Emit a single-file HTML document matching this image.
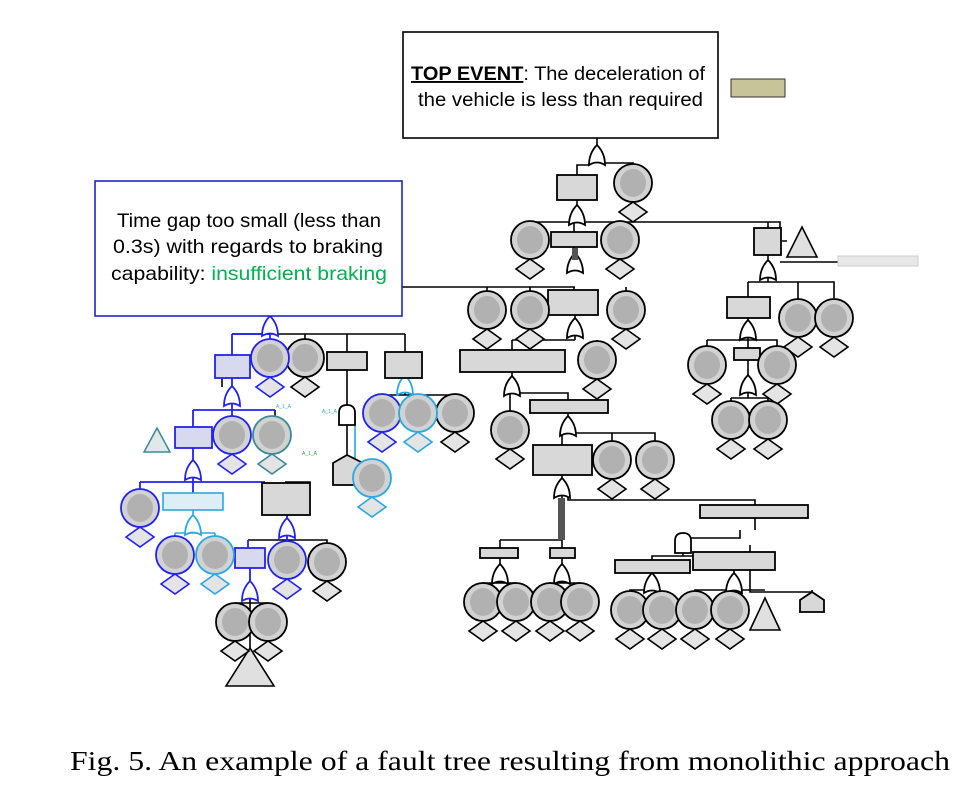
<!DOCTYPE html>
<html><head><meta charset="utf-8"><style>
html,body{margin:0;padding:0;background:#fff;}
svg{display:block;}
</style></head><body>
<svg width="979" height="808" viewBox="0 0 979 808" xmlns="http://www.w3.org/2000/svg">
<defs>
<g id="c"><circle cx="0" cy="0" r="19" fill="#d2d2d2" stroke-width="1.8"/><ellipse cx="0" cy="0" rx="13" ry="14" fill="#8a8a8a" stroke="none" opacity="0.45"/><polygon points="0,19 14,29 0,39 -14,29" fill="#e4e4e4" stroke-width="1.6"/></g>
<g id="g"><path d="M-8,10 Q-8,-2 0,-10 Q8,-2 8,10 Q0,5 -8,10 Z" fill="#fff" stroke-width="1.8"/></g>
<g id="a"><path d="M-8,10 L-8,-2 Q-8,-10 0,-10 Q8,-10 8,-2 L8,10 Z" fill="#fff" stroke-width="1.8"/></g>
</defs>
<g fill="none" stroke="#000" stroke-width="1.6">
<path d="M597,138V145 M577,175V165H590 M604,163H633V166"/>
<path d="M577,200V207 M530,223V222H780V228 M574,222V232 M620,222V223 M768,222V228"/>
<path d="M402,287H575 M574,247V255 M487,287V293 M530,287V293 M626,287V293 M574,287V290" />
<path d="M575,315V318 M512,340H575 M512,340V350 M597,340V343 M575,332V340"/>
<path d="M512,372V378 M510,393V413 M520,393H568V400"/>
<path d="M568,413V418 M562,435V445 M575,433H655V443 M612,433V443"/>
<path d="M562,475V480 M562,496V540 M500,540H562 M500,540V548 M562,540V548 M568,496V500H755V505"/>
<path d="M500,558V568 M562,558V568 M483,585V583H516V585 M550,585V583H580V585 M500,583V578 M562,583V578"/>
<path d="M755,518V530 M683,536V538H740V530 M683,550V556H652V560 M683,550V556H734V552 M750,545V592H812 M812,592V590"/>
<path d="M652,573V590 M630,593V590H660V593 M734,570V590 M695,593V590H765 M730,590V593"/>
<path d="M768,255V262 M782,241H787 M748,282H834V298 M748,282V297 M798,282V301 M768,278V282 M780,262H838"/>
<path d="M748,318V322 M707,340H777V348 M748,338V348 M707,340V348"/>
<path d="M748,360V377 M731,398H768V403 M748,393V398 M731,398V403"/>
<path d="M232,334H405 M305,334V341 M347,334V352 M405,334V352" />
<path d="M347,370V408 M347,422V455"/>
<path d="M405,378V376 M382,395H455 M455,395V396 M405,391V395"/>
<path d="M248,540H327V543 M287,540V543"/>
<path d="M310,483V482H285"/>
<path d="M222,378V387 M275,410V418"/>
</g>
<g fill="none" stroke="#2222ee" stroke-width="1.8">
<path d="M270,316V318 M232,334V355 M270,334V341 M232,334H270"/>
<path d="M232,378V388 M193,410H275 M193,410V427 M232,410V418 M232,404V410"/>
<path d="M193,448V463 M140,482H265 M140,482V490 M193,482V493 M193,478V482"/>
<path d="M287,515V520 M287,536V540 M248,540V548 M287,540V543"/>
<path d="M250,568V583 M382,395V396"/>
<path d="M212,440H205"/>
</g>
<g fill="none" stroke="#2aa8e0" stroke-width="1.6">
<path d="M193,510V518 M175,533H215 M175,533V538 M215,533V538 M193,533V532"/>
<path d="M355,418V465H372V461"/>
<path d="M405,378V376 M418,395V396"/>
</g>
<g stroke="#000" stroke-width="1.6">
<path d="M250,598V605 M235,603H268V608 M235,603V608 M250,603V648" fill="none"/>
</g>
<use href="#g" x="597" y="155" stroke="#000"/>
<use href="#g" x="577" y="215" stroke="#000"/>
<use href="#g" x="575" y="263" stroke="#000"/>
<rect x="572" y="248" width="6" height="12" fill="#555"/>
<use href="#g" x="575" y="328" stroke="#000"/>
<use href="#g" x="512" y="386" stroke="#000"/>
<use href="#g" x="568" y="426" stroke="#000"/>
<use href="#g" x="562" y="488" stroke="#000"/>
<rect x="558" y="498" width="7" height="42" fill="#555"/>
<use href="#g" x="500" y="574" stroke="#000"/>
<use href="#g" x="562" y="574" stroke="#000"/>
<use href="#a" x="683" y="543" stroke="#000"/>
<use href="#g" x="652" y="583" stroke="#000"/>
<use href="#g" x="734" y="583" stroke="#000"/>
<use href="#g" x="768" y="270" stroke="#000"/>
<use href="#g" x="748" y="330" stroke="#000"/>
<use href="#g" x="748" y="385" stroke="#000"/>
<use href="#g" x="270" y="326" stroke="#2222ee"/>
<use href="#g" x="232" y="396" stroke="#2222ee"/>
<use href="#g" x="193" y="470" stroke="#2222ee"/>
<use href="#g" x="193" y="525" stroke="#2aa8e0"/>
<use href="#g" x="287" y="528" stroke="#2222ee"/>
<use href="#g" x="250" y="591" stroke="#2222ee"/>
<use href="#a" x="347" y="415" stroke="#000"/>
<use href="#g" x="405" y="385" stroke="#2aa8e0"/>
<g stroke="#000" stroke-width="1.8" fill="#d8d8d8">
<rect x="557" y="175" width="40" height="25"/>
<rect x="551" y="232" width="46" height="15"/>
<rect x="548" y="290" width="50" height="25"/>
<rect x="460" y="350" width="105" height="22"/>
<rect x="530" y="400" width="78" height="13"/>
<rect x="533" y="445" width="59" height="30"/>
<rect x="480" y="548" width="38" height="10"/>
<rect x="550" y="548" width="25" height="10"/>
<rect x="700" y="505" width="108" height="13"/>
<rect x="615" y="560" width="75" height="13"/>
<rect x="693" y="552" width="82" height="18"/>
<path d="M800,600 L812,592 L824,600 V612 H800 Z"/>
<rect x="754" y="228" width="27" height="27"/>
<rect x="727" y="297" width="43" height="21"/>
<rect x="734" y="348" width="26" height="12"/>
<rect x="327" y="352" width="40" height="18"/>
<rect x="385" y="352" width="37" height="26"/>
<rect x="262" y="483" width="48" height="32"/>
<path d="M333,463 L347,455 L363,463 V485 H333 Z"/>
</g>
<g stroke="#2222ee" stroke-width="1.8" fill="#d8d8ee">
<rect x="215" y="355" width="35" height="23"/>
<rect x="175" y="427" width="37" height="21"/>
<rect x="235" y="548" width="30" height="20"/>
</g>
<rect x="163" y="493" width="60" height="17" stroke="#2aa8e0" stroke-width="1.6" fill="#ddeef5"/>
<rect x="838" y="256" width="80" height="10" stroke="#ccc" fill="#e8e8e8"/>
<rect x="731" y="79" width="54" height="18" stroke="#333" fill="#c8c49a"/>
<g stroke="#000" stroke-width="1.6" fill="#e0e0e0">
<polygon points="802,227 787,257 817,257"/>
<polygon points="765,598 750,630 780,630"/>
<polygon points="250,648 226,686 274,686"/>
</g>
<polygon points="157,428 144,452 170,452" stroke="#3a8a9a" stroke-width="1.5" fill="#e0e8e8"/>
<g stroke="#000">
<use href="#c" x="633" y="183"/>
<use href="#c" x="530" y="240"/>
<use href="#c" x="620" y="240"/>
<use href="#c" x="487" y="310"/>
<use href="#c" x="530" y="310"/>
<use href="#c" x="626" y="310"/>
<use href="#c" x="597" y="360"/>
<use href="#c" x="510" y="430"/>
<use href="#c" x="612" y="460"/>
<use href="#c" x="655" y="460"/>
<use href="#c" x="483" y="602"/>
<use href="#c" x="516" y="602"/>
<use href="#c" x="550" y="602"/>
<use href="#c" x="580" y="602"/>
<use href="#c" x="630" y="610"/>
<use href="#c" x="662" y="610"/>
<use href="#c" x="695" y="610"/>
<use href="#c" x="730" y="610"/>
<use href="#c" x="798" y="318"/>
<use href="#c" x="834" y="318"/>
<use href="#c" x="707" y="365"/>
<use href="#c" x="777" y="365"/>
<use href="#c" x="731" y="420"/>
<use href="#c" x="768" y="420"/>
<use href="#c" x="305" y="358"/>
<use href="#c" x="327" y="562"/>
<use href="#c" x="235" y="622"/>
<use href="#c" x="268" y="622"/>
<use href="#c" x="455" y="413"/>
</g>
<g stroke="#2222ee">
<use href="#c" x="270" y="358"/>
<use href="#c" x="232" y="435"/>
<use href="#c" x="140" y="508"/>
<use href="#c" x="287" y="560"/>
<use href="#c" x="175" y="555"/>
<use href="#c" x="382" y="413"/>
</g>
<g stroke="#2aa8e0">
<use href="#c" x="215" y="555"/>
<use href="#c" x="418" y="413"/>
<use href="#c" x="372" y="478"/>
</g>
<use href="#c" x="272" y="435" stroke="#3a8a9a"/>
<g font-family="Liberation Sans, sans-serif" font-size="5" fill="#2aa8e0">
<text x="276" y="408">A_1_A</text><text x="322" y="413">A_1_A</text>
<text x="302" y="455" fill="#22aa44">A_1_A</text>
</g>
<rect x="403" y="32" width="315" height="106" fill="#fff" stroke="#000" stroke-width="1.6"/>
<text x="411" y="80" textLength="294" lengthAdjust="spacingAndGlyphs" font-family="Liberation Sans, sans-serif" font-size="19"><tspan font-weight="bold" text-decoration="underline">TOP EVENT</tspan>: The deceleration of</text>
<text x="418" y="106" textLength="285" lengthAdjust="spacingAndGlyphs" font-family="Liberation Sans, sans-serif" font-size="19">the vehicle is less than required</text>
<rect x="95" y="181" width="307" height="135" fill="#fff" stroke="#2222cc" stroke-width="1.6"/>
<g font-family="Liberation Sans, sans-serif" font-size="19.5">
<text x="117" y="227" textLength="264" lengthAdjust="spacingAndGlyphs">Time gap too small (less than</text>
<text x="113" y="253" textLength="270" lengthAdjust="spacingAndGlyphs">0.3s)  with regards to braking</text>
<text x="111" y="280" textLength="276" lengthAdjust="spacingAndGlyphs">capability: <tspan fill="#00b050">insufficient braking</tspan></text>
</g>
<text x="70" y="770" textLength="880" lengthAdjust="spacingAndGlyphs" font-family="Liberation Serif, serif" font-size="27.5">Fig. 5.  An example of a fault tree resulting from monolithic approach</text>
</svg>
</body></html>
